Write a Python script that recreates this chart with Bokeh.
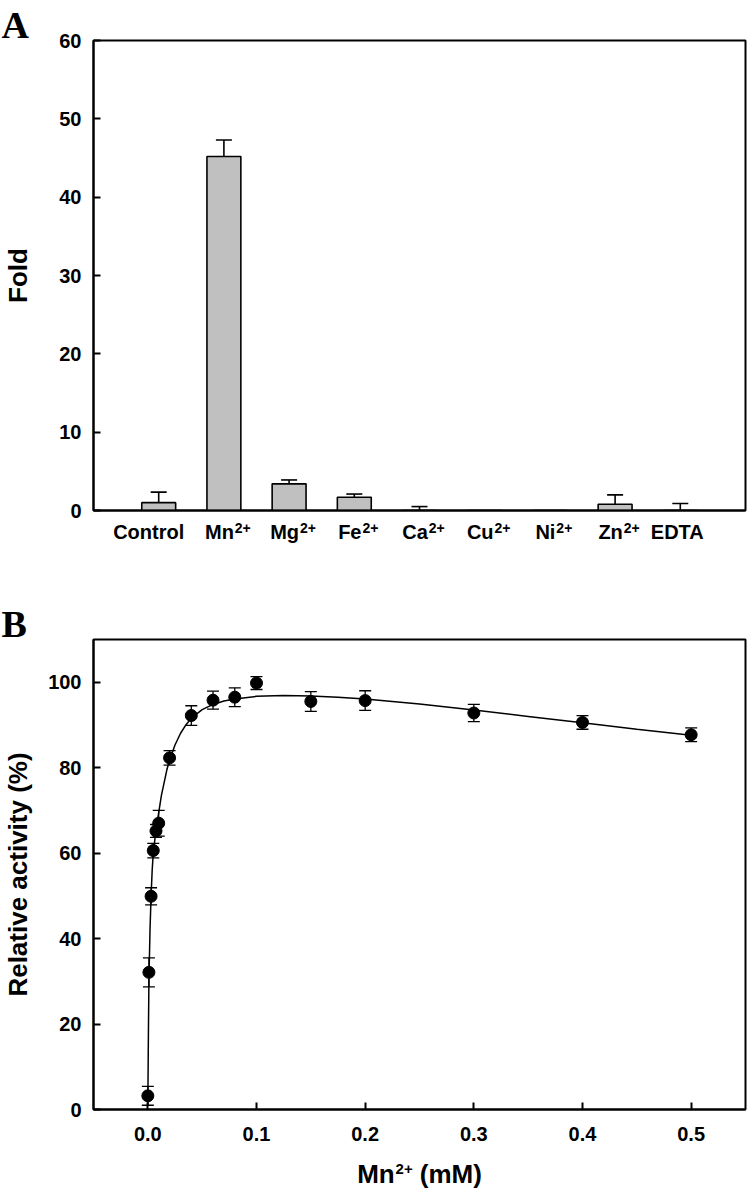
import math
from bokeh.plotting import figure
from bokeh.models import (Range1d, FixedTicker, Whisker, ColumnDataSource, TeeHead,
                          PrintfTickFormatter, LinearAxis, CustomJSTickFormatter, Title)
from bokeh.layouts import column
from bokeh.embed import file_html
from bokeh.resources import INLINE

# ---------------- Panel A data ----------------
categories = ["Control", "Mn", "Mg", "Fe", "Ca", "Cu", "Ni", "Zn", "EDTA"]
superscripts = ["", "2+", "2+", "2+", "2+", "2+", "2+", "2+", ""]
fold = [1.0, 45.2, 3.4, 1.7, 0.0, 0.0, 0.0, 0.8, 0.0]
fold_err = [1.35, 2.1, 0.5, 0.4, 0.5, 0.0, 0.0, 1.2, 0.9]
fold_ticks = [0, 10, 20, 30, 40, 50, 60]

# ---------------- Panel B data ----------------
mn_conc = [0.0, 0.001, 0.003, 0.005, 0.0075, 0.01, 0.02, 0.04, 0.06, 0.08,
           0.1, 0.15, 0.2, 0.3, 0.4, 0.5]
activity = [3.2, 32.1, 49.9, 60.6, 65.2, 67.0, 82.3, 92.2, 95.8, 96.5,
            99.8, 95.5, 95.7, 92.8, 90.6, 87.7]
activity_err = [2.2, 3.4, 2.0, 1.7, 1.5, 3.0, 1.7, 2.3, 2.1, 2.2,
                1.5, 2.3, 2.3, 2.0, 1.6, 1.6]
fit_conc = [0.0, 0.0005, 0.001, 0.002, 0.003, 0.004, 0.005, 0.0075, 0.01, 0.0125,
            0.015, 0.0175, 0.02, 0.025, 0.03, 0.035, 0.04, 0.05, 0.06, 0.07,
            0.08, 0.1, 0.125, 0.15, 0.175, 0.2, 0.25, 0.3, 0.35, 0.4, 0.45, 0.5]
fit_activity = [1.0, 17.0, 30.0, 42.0, 50.0, 56.0, 60.0, 65.5, 69.5, 73.5,
                76.5, 79.5, 81.8, 85.3, 88.0, 90.0, 91.6, 93.6, 94.8, 95.6,
                96.1, 96.7, 96.9, 96.8, 96.5, 96.1, 94.9, 93.5, 92.0, 90.5, 89.0, 87.6]
b_yticks = [0, 20, 40, 60, 80, 100]
b_xticks = [0.0, 0.1, 0.2, 0.3, 0.4, 0.5]
b_xtitle = ["Mn", "2+", "(mM)"]

FONT = "Liberation Sans"
SERIF = "Liberation Serif"
TICK_SIZE = "20px"
AXLAB_SIZE = 26
SUP_A = 14
SUP_B = 15

# Arial-bold advance widths (em) for label layout
W = {"M": .833, "n": .611, "g": .611, "F": .611, "e": .556, "C": .722, "a": .556,
     "u": .611, "N": .722, "i": .278, "Z": .611, "2": .556, "+": .584,
     "(": .333, ")": .333, "m": .889, " ": .278}


def text_w(s, px):
    return sum(W.get(c, .6) for c in s) * px


def style_axis(ax, tick_in=7, size=TICK_SIZE):
    ax.axis_line_width = 2
    ax.axis_line_color = "black"
    ax.major_tick_in = tick_in
    ax.major_tick_out = 0
    ax.minor_tick_in = 0
    ax.minor_tick_out = 0
    ax.major_tick_line_width = 2
    ax.major_tick_line_color = "black"
    ax.major_label_text_font = FONT
    ax.major_label_text_font_size = size
    ax.major_label_text_font_style = "bold"
    ax.major_label_text_color = "black"
    ax.axis_label_text_font = FONT
    ax.axis_label_text_font_style = "bold"
    ax.axis_label_text_font_size = f"{AXLAB_SIZE}px"
    ax.axis_label_text_color = "black"


def text_axis(fig, ticks, names, standoff, size):
    ax = LinearAxis(ticker=FixedTicker(ticks=ticks),
                    formatter=CustomJSTickFormatter(args=dict(names=names),
                                                    code="return names[index];"))
    style_axis(ax, tick_in=0, size=f"{size}px")
    ax.axis_line_color = None
    ax.major_tick_line_color = None
    ax.minor_tick_line_color = None
    ax.major_label_standoff = standoff
    fig.add_layout(ax, "below")
    return ax


def panel_title(fig, letter):
    t = Title(text=letter, align="left", offset=-92, vertical_align="top", standoff=-14,
              text_font=SERIF, text_font_size="38px", text_font_style="bold",
              text_color="black")
    fig.add_layout(t, "above")


# ================= Panel A =================
pA = figure(width=748, height=598, x_range=Range1d(0, 10), y_range=Range1d(0, 60),
            output_backend="svg", toolbar_location=None, x_axis_location=None,
            min_border_left=91, min_border_right=3, min_border_top=40, min_border_bottom=88)
pA.grid.visible = False
pA.outline_line_color = "black"
pA.outline_line_width = 2

xpos = list(range(1, len(categories) + 1))
srcA = ColumnDataSource(dict(x=xpos, top=fold))
pA.vbar(x="x", top="top", bottom=0, width=0.52, fill_color="#c0c0c0",
        line_color="black", line_width=1.6, source=srcA)

ex = [xpos[i] for i in range(len(fold)) if fold_err[i] > 0]
elo = [fold[i] for i in range(len(fold)) if fold_err[i] > 0]
ehi = [fold[i] + fold_err[i] for i in range(len(fold)) if fold_err[i] > 0]
errA = ColumnDataSource(dict(x=ex, lower=elo, upper=ehi))
pA.add_layout(Whisker(source=errA, base="x", lower="lower", upper="upper",
                      dimension="height", line_width=1.6, line_color="black",
                      lower_head=None,
                      upper_head=TeeHead(size=16, line_width=1.6, line_color="black"),
                      level="overlay"))

style_axis(pA.yaxis[0])
pA.yaxis[0].ticker = FixedTicker(ticks=fold_ticks)
pA.yaxis[0].major_label_standoff = 12
pA.yaxis[0].axis_label = "Fold"
pA.yaxis[0].axis_label_standoff = 23

# category labels (element names) and their "2+" superscripts
pxA = 654 / 10.0
label_shift = [-10 if not s else -4.5 for s in superscripts]
label_shift[-1] = -3
base_ticks = [x + sh / pxA for x, sh in zip(xpos, label_shift)]
catax = text_axis(pA, base_ticks, categories, 10, 20)
catax.axis_line_color = "black"
sup_ticks = [x + (sh + text_w(c, 20) / 2 + 1 + text_w(s, SUP_A) / 2) / pxA
             for x, sh, c, s in zip(xpos, label_shift, categories, superscripts) if s]
text_axis(pA, sup_ticks, [s for s in superscripts if s], -23, SUP_A)
panel_title(pA, "A")

# ================= Panel B =================
pB = figure(width=748, height=598, x_range=Range1d(-0.05, 0.55), y_range=Range1d(0, 110),
            output_backend="svg", toolbar_location=None,
            min_border_left=91, min_border_right=3, min_border_top=41, min_border_bottom=87)
pB.grid.visible = False
pB.outline_line_color = "black"
pB.outline_line_width = 2

pB.line(fit_conc, fit_activity, line_color="black", line_width=1.5)
srcB = ColumnDataSource(dict(x=mn_conc, y=activity,
                             lower=[a - e for a, e in zip(activity, activity_err)],
                             upper=[a + e for a, e in zip(activity, activity_err)]))
pB.add_layout(Whisker(source=srcB, base="x", lower="lower", upper="upper",
                      dimension="height", line_width=1.3, line_color="black",
                      lower_head=TeeHead(size=12, line_width=1.3, line_color="black"),
                      upper_head=TeeHead(size=12, line_width=1.3, line_color="black")))
pB.scatter("x", "y", source=srcB, size=12, fill_color="black", line_color="black")

style_axis(pB.yaxis[0])
pB.yaxis[0].ticker = FixedTicker(ticks=b_yticks)
pB.yaxis[0].major_label_standoff = 12
pB.yaxis[0].axis_label = "Relative activity (%)"
pB.yaxis[0].axis_label_standoff = 12
style_axis(pB.xaxis[0])
pB.xaxis[0].ticker = FixedTicker(ticks=b_xticks)
pB.xaxis[0].formatter = PrintfTickFormatter(format="%.1f")
pB.xaxis[0].major_label_standoff = 17

# x-axis title "Mn2+ (mM)" centred under the frame
pxB = 654 / 0.6
xc = 0.25
w_mn = text_w(b_xtitle[0], AXLAB_SIZE)
w_sup = text_w(b_xtitle[1], SUP_B)
w_sp = text_w(" ", AXLAB_SIZE)
w_mm = text_w(b_xtitle[2], AXLAB_SIZE)
total = w_mn + 1 + w_sup + w_sp + w_mm
left = -total / 2
c_mn = xc + (left + w_mn / 2) / pxB
c_sup = xc + (left + w_mn + 1 + w_sup / 2) / pxB
c_mm = xc + (left + w_mn + 1 + w_sup + w_sp + w_mm / 2) / pxB
text_axis(pB, [c_mn, c_mm], [b_xtitle[0], b_xtitle[2]], 15, AXLAB_SIZE)
text_axis(pB, [c_sup], [b_xtitle[1]], -28, SUP_B)
panel_title(pB, "B")

layout = column(pA, pB, spacing=0)
open("out.html", "w").write(file_html(layout, INLINE))
